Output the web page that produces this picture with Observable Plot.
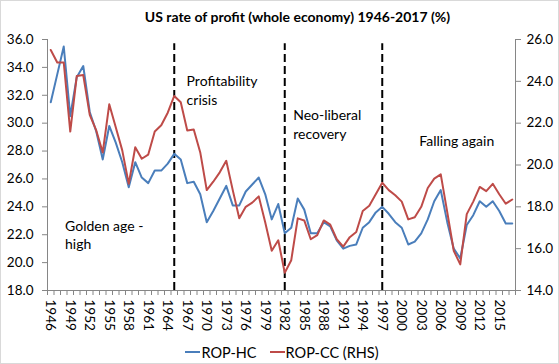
<!DOCTYPE html>
<html><head><meta charset="utf-8">
<script src="https://cdn.jsdelivr.net/npm/d3@7"></script>
<script src="https://cdn.jsdelivr.net/npm/@observablehq/plot@0.6"></script>
<style>
html,body{margin:0;padding:0;background:#fff;}
#chart{position:relative;width:559px;height:364px;overflow:hidden;font-family:Lato,sans-serif;color:#000;background:#fff;}
#frame{position:absolute;left:0;top:0;right:0;bottom:0;border:1px solid #d9d9d9;pointer-events:none;}
#title{height:30px;width:595px;text-align:center;font-weight:bold;font-size:14px;line-height:33px;}
#plot svg{display:block;}
#legend{height:24px;width:564px;display:flex;justify-content:center;align-items:center;font-size:14.5px;gap:13px;}
.item{display:flex;align-items:center;}
.sw{display:inline-block;width:15px;height:2px;margin-right:1px;}
</style></head>
<body>
<div id="chart">
  <div id="title">US rate of profit (whole economy) 1946-2017 (%)</div>
  <div id="plot"></div>
  <div id="legend"></div>
  <div id="frame"></div>
</div>
<script>
const years = [1946,1947,1948,1949,1950,1951,1952,1953,1954,1955,1956,1957,1958,1959,1960,1961,1962,1963,1964,1965,1966,1967,1968,1969,1970,1971,1972,1973,1974,1975,1976,1977,1978,1979,1980,1981,1982,1983,1984,1985,1986,1987,1988,1989,1990,1991,1992,1993,1994,1995,1996,1997,1998,1999,2000,2001,2002,2003,2004,2005,2006,2007,2008,2009,2010,2011,2012,2013,2014,2015,2016,2017];
const ropHC = [31.5,33.5,35.5,30.5,33.3,34.1,30.8,29.4,27.4,29.8, 28.6,27.2,25.4,27.2,26.1,25.7,26.6,26.6,27.1,27.8, 27.4,25.7,25.8,24.9,22.9,23.7,24.6,25.5,24.1,24.1, 25.1,25.6,26.1,24.9,23.1,24.2,22.1,22.5,24.6,23.8, 22.1,22.1,22.9,22.6,21.6,21.0,21.2,21.3,22.5,22.9, 23.6,24.0,23.5,22.9,22.5,21.3,21.5,22.1,23.1,24.4, 25.2,22.9,21.0,20.3,22.7,23.4,24.4,24.0,24.4,23.7, 22.8,22.8];
const ropCC = [25.5,24.9,24.9,21.6,24.25,24.3,22.4,21.65,20.6,22.9, 21.8,20.7,19.1,20.85,20.3,20.5,21.6,21.9,22.5,23.3, 23.0,21.65,21.7,20.6,18.8,19.2,19.65,20.2,18.8,17.45, 18.0,18.2,18.5,17.25,15.9,16.4,14.85,15.45,17.45,17.35, 16.45,16.65,17.35,17.15,16.45,16.1,16.55,16.8,17.8,18.05, 18.6,19.15,18.8,18.55,18.25,17.4,17.5,18.0,18.9,19.35, 19.55,17.75,15.9,15.25,17.65,18.25,18.95,18.75,19.1,18.6, 18.15,18.35];
const seriesNames = ["ROP-HC", "ROP-CC (RHS)"];
const seriesColors = ["#4a7ebb", "#be4b48"];
const leftTicks = [18,20,22,24,26,28,30,32,34,36];
const rightTicks = [14,16,18,20,22,24,26];
const labelYears = [1946,1949,1952,1955,1958,1961,1964,1967,1970,1973,1976,1979,1982,1985,1988,1991,1994,1997,2000,2003,2006,2009,2012,2015];
const periodBreaks = [1965, 1982, 1997];
const notes = [
  {label: "Golden age -\nhigh", year: 1948.2, value: 22.05},
  {label: "Profitability\ncrisis", year: 1966.9, value: 32.4},
  {label: "Neo-liberal\nrecovery", year: 1983.3, value: 29.97},
  {label: "Falling again", year: 2002.7, value: 28.75}
];

const data = years.map((year, i) => ({year, hc: ropHC[i], cc: ropCC[i]}));
// secondary (right) axis 14–26 mapped onto primary 18–36
const toLeft = v => 18 + (v - 14) * 1.5;
const fromLeft = d => (d - 18) / 1.5 + 14;
const boundaries = [...years.map(y => y - 0.5), years[years.length - 1] + 0.5];
const axisGray = "#868686";

const chart = Plot.plot({
  width: 559, height: 310,
  marginTop: 9, marginBottom: 50, marginLeft: 47, marginRight: 44,
  style: {fontFamily: "Lato, sans-serif", fontSize: "13.5px", color: "#000", background: "#fff", overflow: "visible"},
  x: {type: "linear", domain: [boundaries[0], boundaries[boundaries.length - 1]]},
  y: {domain: [18, 36]},
  marks: [
    Plot.axisY(leftTicks, {anchor: "left", tickFormat: d => d.toFixed(1), tickSize: 5, tickPadding: 9, stroke: axisGray, fill: "#000", label: null}),
    Plot.axisY(rightTicks.map(toLeft), {anchor: "right", tickFormat: d => fromLeft(d).toFixed(1), tickSize: 5, tickPadding: 6, stroke: axisGray, fill: "#000", label: null}),
    Plot.axisX(boundaries, {tickSize: 5, tickFormat: () => "", stroke: axisGray, label: null}),
    Plot.axisX(labelYears, {tickSize: 0, tickPadding: 9, tickRotate: 90, tickFormat: d => String(d), fill: "#000", label: null}),
    Plot.ruleX([boundaries[0], boundaries[boundaries.length - 1]], {stroke: axisGray}),
    Plot.ruleY([18], {stroke: axisGray}),
    Plot.ruleX(periodBreaks, {y1: 18, y2: 35.7, stroke: "#000", strokeWidth: 2, strokeDasharray: "8,4"}),
    Plot.line(data, {x: "year", y: "hc", stroke: seriesColors[0], strokeWidth: 2}),
    Plot.line(data, {x: "year", y: d => toLeft(d.cc), stroke: seriesColors[1], strokeWidth: 2}),
    Plot.text(notes, {x: "year", y: "value", text: "label", textAnchor: "start", lineAnchor: "middle", lineHeight: 1.3, fontSize: 14, fill: "#000"})
  ]
});
document.getElementById("plot").appendChild(chart);

const legend = document.getElementById("legend");
seriesNames.forEach((name, i) => {
  const item = document.createElement("span");
  item.className = "item";
  const sw = document.createElement("span");
  sw.className = "sw";
  sw.style.background = seriesColors[i];
  item.appendChild(sw);
  item.appendChild(document.createTextNode(name));
  legend.appendChild(item);
});
</script>
</body></html>
